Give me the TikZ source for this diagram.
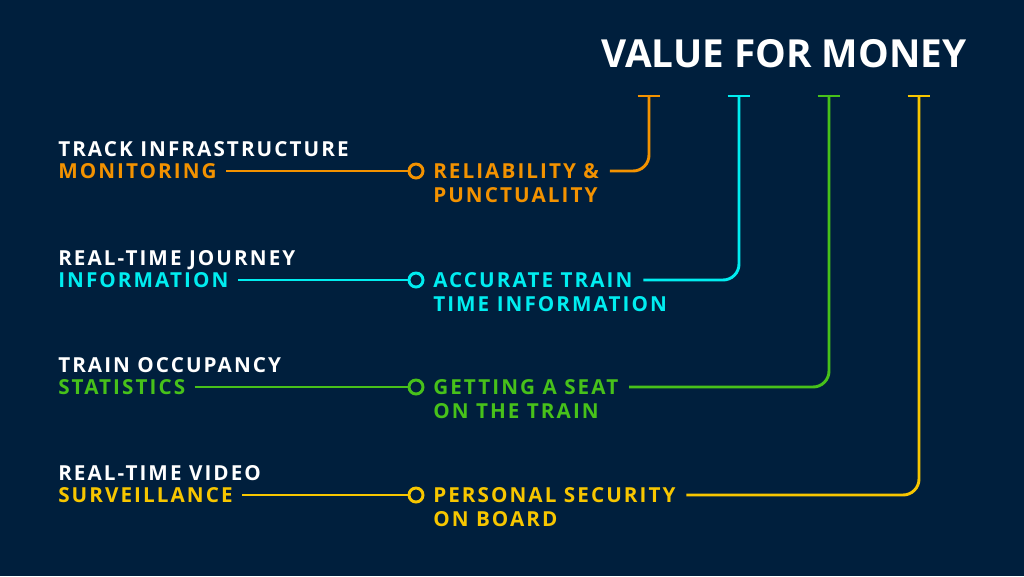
\documentclass[tikz,border=0pt]{standalone}
\usepackage{fontspec}
\setmainfont{Open Sans}[LetterSpace=10]
\newfontfamily\titulofont{Open Sans}
\usetikzlibrary{positioning}
\definecolor{fondo}{HTML}{001F3D}
\definecolor{naranja}{HTML}{F39200}
\definecolor{cian}{HTML}{00EDF0}
\definecolor{verde}{HTML}{47C11A}
\definecolor{amarillo}{HTML}{F7C600}
\begin{document}
\begin{tikzpicture}[x=0.75pt, y=-0.75pt,
	texto/.style={font=\fontsize{15.5}{18}\selectfont\bfseries, inner sep=0pt, anchor=west, text height=11.2pt, text depth=0pt},
	linea/.style={line width=2.2pt}]
	\fill[fondo] (0,0) rectangle (1024,576);
	\node[font=\titulofont\fontsize{29}{34}\selectfont\bfseries, text=white, inner sep=0pt] (titulo) at (784,54) {VALUE FOR MONEY};
	
	% Bucle para las cuatro filas
	\foreach \fila/\y/\tx/\col/\blanco/\izq/\derA/\derB in {
		1/171/649/naranja/TRACK INFRASTRUCTURE/MONITORING/RELIABILITY \&/PUNCTUALITY,
		2/280/739/cian/REAL-TIME JOURNEY/INFORMATION/ACCURATE TRAIN/TIME INFORMATION,
		3/387/829/verde/TRAIN OCCUPANCY/STATISTICS/GETTING A SEAT/ON THE TRAIN,
		4/495/919/amarillo/REAL-TIME VIDEO/SURVEILLANCE/PERSONAL SECURITY/ON BOARD} {
		\node[texto, text=white] (blanco\fila) at (58,\y-22) {\blanco};
		\node[texto, text=\col] (izq\fila) at (58,\y) {\izq};
		\node[circle, draw=\col, linea, minimum size=10.5pt, inner sep=0pt] (punto\fila) at (416,\y) {};
		\node[texto, text=\col] (der\fila) at (433,\y) {\derA};
		\node[texto, text=\col] (derb\fila) at (433,\y+24) {\derB};
		\coordinate (tope\fila) at (\tx,96);
		\draw[linea, \col, shorten <=7] (izq\fila.east) -- (punto\fila.west);
		\draw[linea, \col, rounded corners=12, shorten <=8] (der\fila.east) -| (tope\fila);
		\draw[linea, \col] ([xshift=-8.5]tope\fila) -- ([xshift=8.5]tope\fila);
	}
\end{tikzpicture}
\end{document}
